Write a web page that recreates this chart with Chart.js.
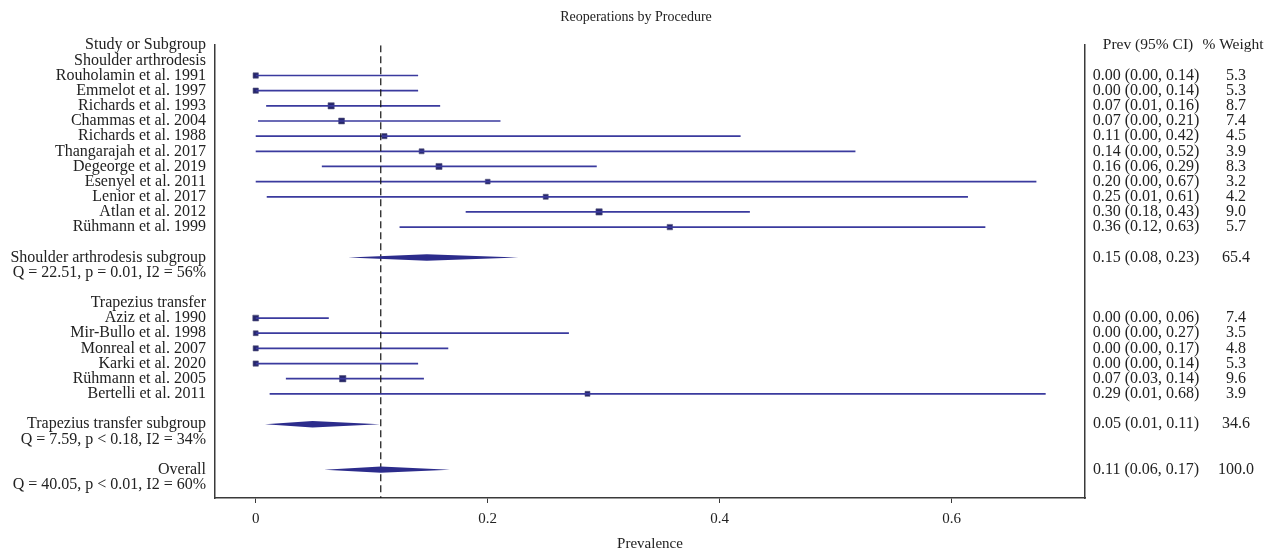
<!DOCTYPE html>
<html lang="en">
<head>
<meta charset="UTF-8">
<title>Reoperations by Procedure</title>
<script src="https://cdn.jsdelivr.net/npm/chart.js@4/dist/chart.umd.min.js"></script>
<style>
  html, body { margin: 0; padding: 0; background: #fff; }
  #wrap { width: 1272px; height: 554px; }
</style>
</head>
<body>
<div id="wrap"><canvas id="forest"></canvas></div>
<script>
// one label per row, top to bottom
const rowLabels = [
  'Study or Subgroup', 'Shoulder arthrodesis',
  'Rouholamin et al. 1991', 'Emmelot et al. 1997', 'Richards et al. 1993', 'Chammas et al. 2004',
  'Richards et al. 1988', 'Thangarajah et al. 2017', 'Degeorge et al. 2019', 'Esenyel et al. 2011',
  'Lenior et al. 2017', 'Atlan et al. 2012', 'Rühmann et al. 1999',
  '', 'Shoulder arthrodesis subgroup', 'Q = 22.51, p = 0.01, I2 = 56%', '',
  'Trapezius transfer',
  'Aziz et al. 1990', 'Mir-Bullo et al. 1998', 'Monreal et al. 2007', 'Karki et al. 2020',
  'Rühmann et al. 2005', 'Bertelli et al. 2011',
  '', 'Trapezius transfer subgroup', 'Q = 7.59, p < 0.18, I2 = 34%', '',
  'Overall', 'Q = 40.05, p < 0.01, I2 = 60%'
];

// individual studies
const studyRows   = [2, 3, 4, 5, 6, 7, 8, 9, 10, 11, 12, 18, 19, 20, 21, 22, 23];
const studyEst    = [0, 0, 0.065, 0.074, 0.111, 0.143, 0.158, 0.200, 0.250, 0.296, 0.357, 0, 0, 0, 0, 0.075, 0.286];
const studyLow    = [0, 0, 0.009, 0.002, 0, 0, 0.057, 0, 0.0095, 0.181, 0.124, 0, 0, 0, 0, 0.026, 0.012];
const studyHigh   = [0.140, 0.140, 0.159, 0.211, 0.418, 0.517, 0.294, 0.673, 0.614, 0.426, 0.629, 0.063, 0.270, 0.166, 0.140, 0.145, 0.681];
const studyWeight = [5.3, 5.3, 8.7, 7.4, 4.5, 3.9, 8.3, 3.2, 4.2, 9.0, 5.7, 7.4, 3.5, 4.8, 5.3, 9.6, 3.9];
const studyCI = [
  '0.00 (0.00, 0.14)', '0.00 (0.00, 0.14)', '0.07 (0.01, 0.16)', '0.07 (0.00, 0.21)',
  '0.11 (0.00, 0.42)', '0.14 (0.00, 0.52)', '0.16 (0.06, 0.29)', '0.20 (0.00, 0.67)',
  '0.25 (0.01, 0.61)', '0.30 (0.18, 0.43)', '0.36 (0.12, 0.63)',
  '0.00 (0.00, 0.06)', '0.00 (0.00, 0.27)', '0.00 (0.00, 0.17)', '0.00 (0.00, 0.14)',
  '0.07 (0.03, 0.14)', '0.29 (0.01, 0.68)'
];

// pooled estimates
const summaryRows   = [14, 25, 28];
const summaryEst    = [0.1475, 0.049, 0.1078];
const summaryLow    = [0.0797, 0.008, 0.059];
const summaryHigh   = [0.2264, 0.107, 0.1675];
const summaryWeight = [65.4, 34.6, 100.0];
const summaryCI     = ['0.15 (0.08, 0.23)', '0.05 (0.01, 0.11)', '0.11 (0.06, 0.17)'];

const xTicks = [0, 0.2, 0.4, 0.6];
const overallLine = 0.1078;

const serif = 'Liberation Serif';
const rowMax = 29.87;

const ciSets = studyRows.map((r, i) => ({
  data: [{x: studyLow[i], y: r}, {x: studyHigh[i], y: r}],
  showLine: true,
  borderColor: '#3a3a9e',
  borderWidth: 1.7,
  pointRadius: 0
}));

const refLine = {
  data: [{x: overallLine, y: 0}, {x: overallLine, y: rowMax}],
  showLine: true,
  borderColor: '#111',
  borderWidth: 1.2,
  borderDash: [7, 4],
  pointRadius: 0
};

const pointSet = {
  data: studyRows.map((r, i) => ({x: studyEst[i], y: r})),
  pointStyle: 'rect',
  pointRadius: ctx => (4 + 0.25 * studyWeight[ctx.dataIndex]) / Math.SQRT2,
  backgroundColor: '#26266a',
  borderColor: '#55557a',
  borderWidth: 0.6
};

const diamonds = {
  id: 'diamonds',
  afterDatasetsDraw(chart) {
    const {ctx, scales: {x, y}} = chart;
    ctx.save();
    ctx.fillStyle = '#2c2c8c';
    summaryRows.forEach((r, i) => {
      const yc = y.getPixelForValue(r);
      const xl = x.getPixelForValue(summaryLow[i]);
      const xm = x.getPixelForValue(summaryEst[i]);
      const xh = x.getPixelForValue(summaryHigh[i]);
      ctx.beginPath();
      ctx.moveTo(xl, yc);
      ctx.lineTo(xm, yc - 3.2);
      ctx.lineTo(xh, yc);
      ctx.lineTo(xm, yc + 3.2);
      ctx.closePath();
      ctx.fill();
    });
    ctx.restore();
  }
};

const rightText = {
  id: 'rightText',
  afterDraw(chart) {
    const {ctx, chartArea, scales: {y}} = chart;
    const c1 = chartArea.right + 61, c2 = chartArea.right + 151;
    ctx.save();
    ctx.fillStyle = '#222';
    ctx.textAlign = 'center';
    ctx.textBaseline = 'middle';
    ctx.font = '15.5px "' + serif + '"';
    ctx.fillText('Prev (95% CI)', c1 + 2, y.getPixelForValue(0));
    ctx.fillText('% Weight', c2 - 3, y.getPixelForValue(0));
    ctx.font = '16px "' + serif + '"';
    studyRows.forEach((r, i) => {
      ctx.fillText(studyCI[i], c1, y.getPixelForValue(r));
      ctx.fillText(studyWeight[i].toFixed(1), c2, y.getPixelForValue(r));
    });
    summaryRows.forEach((r, i) => {
      ctx.fillText(summaryCI[i], c1, y.getPixelForValue(r));
      ctx.fillText(summaryWeight[i].toFixed(1), c2, y.getPixelForValue(r));
    });
    ctx.restore();
  }
};

new Chart(document.getElementById('forest'), {
  type: 'scatter',
  data: { datasets: [refLine, ...ciSets, pointSet] },
  plugins: [diamonds, rightText],
  options: {
    responsive: true,
    maintainAspectRatio: false,
    animation: false,
    devicePixelRatio: 1,
    layout: { padding: 0 },
    plugins: {
      legend: { display: false },
      tooltip: { enabled: false },
      title: {
        display: true,
        text: 'Reoperations by Procedure',
        color: '#222',
        font: { family: serif, size: 14, weight: 'normal' },
        padding: { top: 9, bottom: 19.4 }
      }
    },
    scales: {
      x: {
        type: 'linear',
        min: -0.0351,
        max: 0.7149,
        afterBuildTicks: s => { s.ticks = xTicks.map(v => ({value: v})); },
        afterFit: s => { s.height = 56; },
        grid: { drawOnChartArea: false, drawTicks: true, tickLength: 5, color: '#3a3a3a' },
        border: { display: true, color: '#3a3a3a', width: 1.5 },
        ticks: {
          padding: 7,
          color: '#222',
          font: { family: serif, size: 15 },
          callback: v => v === 0 ? '0' : v.toFixed(1)
        },
        title: {
          display: true,
          text: 'Prevalence',
          color: '#222',
          font: { family: serif, size: 15 },
          padding: { top: 0, bottom: 1 }
        }
      },
      y: {
        type: 'linear',
        reverse: true,
        min: 0,
        max: rowMax,
        afterBuildTicks: s => { s.ticks = rowLabels.map((_, i) => ({value: i})); },
        afterFit: s => { s.width = 215; },
        grid: { display: false, drawTicks: false },
        border: { display: true, color: '#3a3a3a', width: 1.5 },
        ticks: {
          autoSkip: false,
          padding: 9,
          color: '#222',
          font: { family: serif, size: 16 },
          callback: (v, i) => rowLabels[i]
        }
      },
      y2: {
        type: 'linear',
        position: 'right',
        reverse: true,
        min: 0,
        max: rowMax,
        afterFit: s => { s.width = 187; },
        grid: { display: false, drawTicks: false },
        border: { display: true, color: '#3a3a3a', width: 1.5 },
        ticks: { display: false }
      }
    }
  }
});
</script>
</body>
</html>
